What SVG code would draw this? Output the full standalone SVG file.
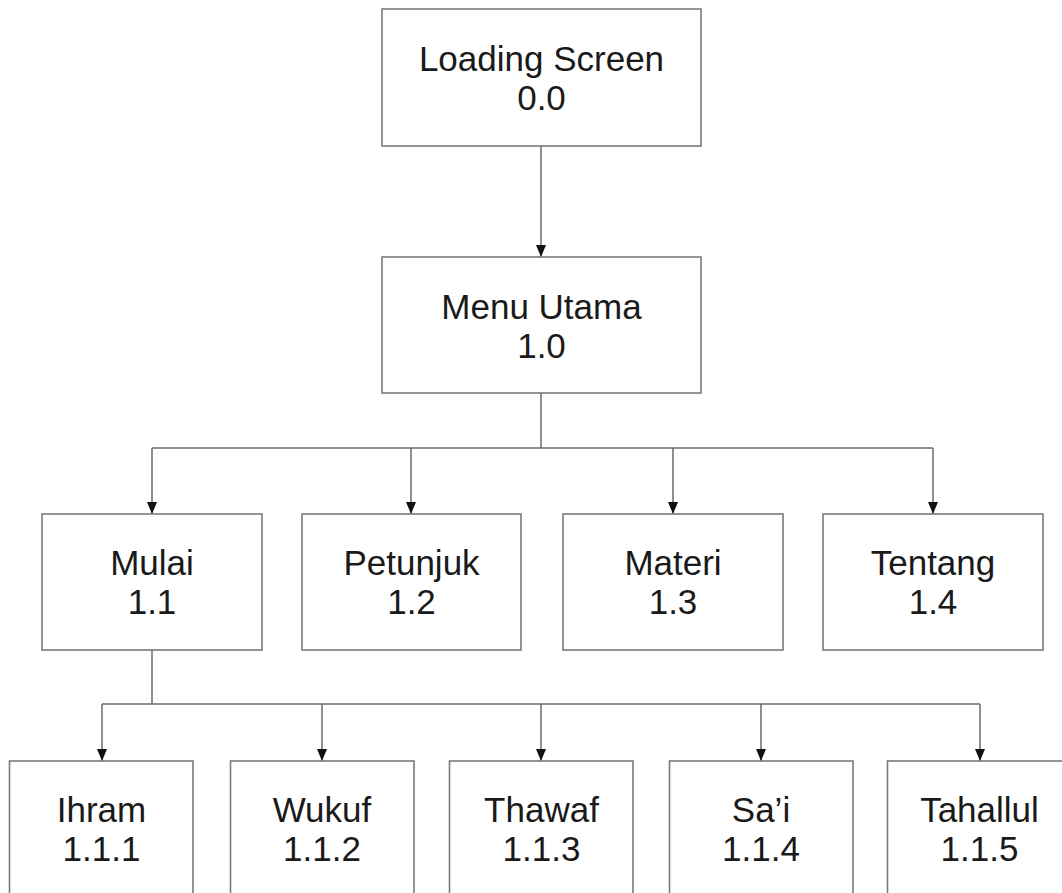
<svg xmlns="http://www.w3.org/2000/svg" width="1062" height="893" viewBox="0 0 1062 893">
<style>
.box{fill:#fff;stroke:#7a7a7a;stroke-width:1.6}
.t{font-family:"Liberation Sans",Arial,sans-serif;font-size:35px;fill:#1a1a1a;text-anchor:middle}
.c{fill:none;stroke:#6a6a6a;stroke-width:1.5}
</style>
<defs>
<marker id="ah" markerUnits="userSpaceOnUse" markerWidth="14" markerHeight="14" viewBox="0 0 14 14" refX="12" refY="7" orient="auto">
<path d="M0,2 L12,7 L0,12 Z" fill="#111"/>
</marker>
</defs>
<rect width="1062" height="893" fill="#fff"/>
<g id="connectors">
<path class="c" d="M541,146 V257" stroke="#333" marker-end="url(#ah)"/>
<path class="c" d="M541,393 V448"/>
<path class="c" d="M152,448 H933"/>
<path class="c" d="M152,448 V514" marker-end="url(#ah)"/>
<path class="c" d="M411,448 V514" marker-end="url(#ah)"/>
<path class="c" d="M673,448 V514" marker-end="url(#ah)"/>
<path class="c" d="M933,448 V514" marker-end="url(#ah)"/>
<path class="c" d="M152,650 V704"/>
<path class="c" d="M102,704 H980"/>
<path class="c" d="M102,704 V761" marker-end="url(#ah)"/>
<path class="c" d="M322,704 V761" marker-end="url(#ah)"/>
<path class="c" d="M541,704 V761" marker-end="url(#ah)"/>
<path class="c" d="M761,704 V761" marker-end="url(#ah)"/>
<path class="c" d="M980,704 V761" marker-end="url(#ah)"/>
</g>
<g id="n00"><rect class="box" x="382" y="9" width="319" height="137"/><text class="t" x="541.5" y="71">Loading Screen</text><text class="t" x="541.5" y="110">0.0</text></g>
<g id="n10"><rect class="box" x="382" y="257" width="319" height="136"/><text class="t" x="541.5" y="319">Menu Utama</text><text class="t" x="541.5" y="358">1.0</text></g>
<g id="n11"><rect class="box" x="42" y="514" width="220" height="136"/><text class="t" x="152" y="575">Mulai</text><text class="t" x="152" y="614">1.1</text></g>
<g id="n12"><rect class="box" x="302" y="514" width="219" height="136"/><text class="t" x="411.5" y="575">Petunjuk</text><text class="t" x="411.5" y="614">1.2</text></g>
<g id="n13"><rect class="box" x="563" y="514" width="220" height="136"/><text class="t" x="673" y="575">Materi</text><text class="t" x="673" y="614">1.3</text></g>
<g id="n14"><rect class="box" x="823" y="514" width="220" height="136"/><text class="t" x="933" y="575">Tentang</text><text class="t" x="933" y="614">1.4</text></g>
<g id="n111"><rect class="box" x="9.5" y="761" width="183.5" height="200"/><text class="t" x="101.5" y="822">Ihram</text><text class="t" x="101.5" y="861">1.1.1</text></g>
<g id="n112"><rect class="box" x="230.5" y="761" width="183.5" height="200"/><text class="t" x="322" y="822">Wukuf</text><text class="t" x="322" y="861">1.1.2</text></g>
<g id="n113"><rect class="box" x="449.5" y="761" width="183.5" height="200"/><text class="t" x="541.5" y="822">Thawaf</text><text class="t" x="541.5" y="861">1.1.3</text></g>
<g id="n114"><rect class="box" x="669.5" y="761" width="183.5" height="200"/><text class="t" x="761" y="822">Sa’i</text><text class="t" x="761" y="861">1.1.4</text></g>
<g id="n115"><rect class="box" x="887.5" y="761" width="183.5" height="200"/><text class="t" x="979.5" y="822">Tahallul</text><text class="t" x="979.5" y="861">1.1.5</text></g>
</svg>
